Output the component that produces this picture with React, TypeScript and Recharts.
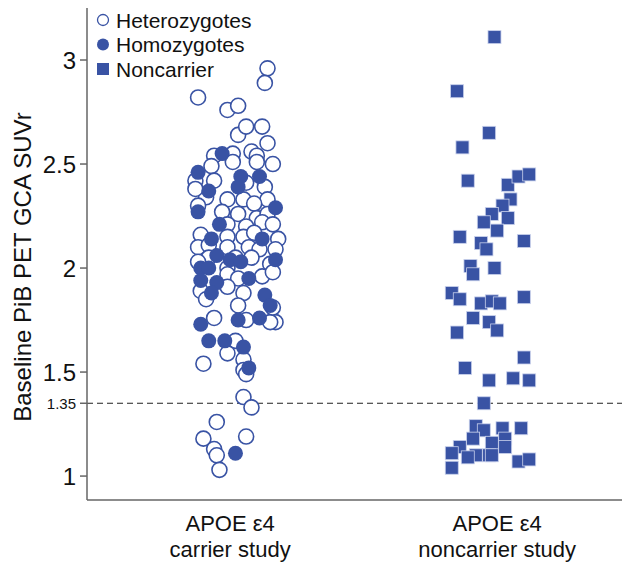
import { ScatterChart, Scatter, XAxis, YAxis, ReferenceLine, Label } from 'recharts';

const BLUE = '#3953a4';
const FONT = '"Liberation Sans", Arial, sans-serif';

const studyLabels = [['APOE ε4', 'carrier study'], ['APOE ε4', 'noncarrier study']];
const yTicks = [1, 1.35, 1.5, 2, 2.5, 3];
const threshold = 1.35;

// carrier study, heterozygotes: horizontal jitter and SUVr
const heteroJitter = [
    0.14, 0.13, -0.12, -0.01, 0.03, 0.03, 0.06, 0.12, 0.14, 0.08, 0.10, -0.06, 0.01, -0.07, 0.01, 0.10,
    0.16, -0.13, -0.06, 0.06, 0.13, -0.09, -0.01, 0.05, 0.14, -0.03, 0.03, 0.09, 0.10, 0.14, -0.01, 0.06,
    0.12, 0.16, -0.11, -0.01, 0.05, 0.09, 0.18, -0.12, -0.08, -0.01, 0.07, 0.11, 0.17, -0.08, 0.02, 0.08,
    0.15, -0.01, -0.01, 0.03, 0.12, 0.16, -0.11, -0.01, 0.05, 0.03, -0.06, 0.06, 0.17, 0.15, 0.02, -0.01,
    0.05, -0.10, 0.05, 0.06, 0.05, 0.08, -0.05, -0.10, 0.06, -0.06, -0.05, -0.04, -0.13, -0.12, -0.09, 0.16,
    -0.12,
];
const heteroSuvr = [
    2.96, 2.89, 2.82, 2.76, 2.78, 2.64, 2.68, 2.68, 2.60, 2.56, 2.54, 2.54, 2.55, 2.49, 2.51, 2.51,
    2.50, 2.42, 2.42, 2.41, 2.39, 2.34, 2.33, 2.33, 2.33, 2.27, 2.26, 2.31, 2.24, 2.26, 2.21, 2.20,
    2.22, 2.21, 2.16, 2.15, 2.15, 2.17, 2.14, 2.10, 2.11, 2.10, 2.10, 2.09, 2.09, 2.05, 2.05, 2.05,
    2.02, 2.00, 1.97, 1.95, 1.96, 1.98, 1.89, 1.91, 1.88, 1.82, 1.76, 1.75, 1.74, 1.74, 1.65, 1.59,
    1.56, 1.54, 1.51, 1.49, 1.38, 1.33, 1.26, 1.18, 1.19, 1.13, 1.10, 1.03, 2.38, 2.03, 1.85, 1.81,
    2.30,
];

// carrier study, homozygotes
const homoJitter = [
    -0.03, -0.12, -0.08, 0.04, 0.11, 0.03, -0.12, 0.17, -0.04, -0.07, 0.12, -0.05, 0.00, 0.04, 0.17, -0.11,
    -0.08, -0.11, -0.05, 0.07, -0.07, 0.13, 0.15, -0.11, 0.03, 0.11, -0.08, -0.02, 0.05, 0.07, 0.02,
];
const homoSuvr = [
    2.55, 2.46, 2.37, 2.44, 2.44, 2.39, 2.27, 2.29, 2.21, 2.14, 2.14, 2.06, 2.04, 2.03, 2.04, 2.00,
    2.00, 1.94, 1.93, 1.95, 1.88, 1.87, 1.82, 1.73, 1.75, 1.76, 1.65, 1.65, 1.62, 1.52, 1.11,
];

// noncarrier study
const nonJitter = [
    -0.01, -0.15, -0.03, -0.13, -0.11, 0.04, 0.08, 0.12, 0.05, 0.02, -0.02, -0.05, 0.04, 0.00, -0.14, -0.06,
    -0.04, 0.10, -0.10, -0.01, -0.09, -0.17, -0.14, -0.06, -0.02, 0.01, 0.10, -0.09, -0.03, 0.00, -0.15, 0.10,
    -0.12, -0.03, 0.06, 0.12, -0.05, -0.08, -0.05, 0.02, 0.09, -0.09, -0.14, 0.03, -0.02, 0.03, -0.17, -0.08,
    -0.03, -0.02, -0.11, 0.08, 0.12, -0.17,
];
const nonSuvr = [
    3.11, 2.85, 2.65, 2.58, 2.42, 2.40, 2.44, 2.45, 2.33, 2.30, 2.26, 2.22, 2.24, 2.18, 2.15, 2.12,
    2.09, 2.13, 2.01, 2.00, 1.97, 1.88, 1.85, 1.83, 1.84, 1.83, 1.86, 1.76, 1.74, 1.70, 1.69, 1.57,
    1.52, 1.46, 1.47, 1.46, 1.35, 1.24, 1.22, 1.23, 1.23, 1.18, 1.14, 1.18, 1.16, 1.14, 1.11, 1.10,
    1.10, 1.10, 1.09, 1.07, 1.08, 1.04,
];

const legendItems = [
    { name: 'Heterozygotes', kind: 'hollow' },
    { name: 'Homozygotes', kind: 'solid' },
    { name: 'Noncarrier', kind: 'square' },
];

const toPoints = (center: number, jitter: number[], suvr: number[]) =>
    suvr.map((y, i) => ({ x: center + jitter[i], y }));

const heteroData = toPoints(1, heteroJitter, heteroSuvr);
const homoData = toPoints(1, homoJitter, homoSuvr);
const nonData = toPoints(2, nonJitter, nonSuvr);

const HollowDot = (p: any) => (
    <circle cx={p.cx} cy={p.cy} r={7.5} fill='#fff' stroke={BLUE} strokeWidth={1.6} />
);
const SolidDot = (p: any) => (
    <circle cx={p.cx} cy={p.cy} r={7.5} fill={BLUE} />
);
const SquareMark = (p: any) => (
    <rect x={p.cx - 6.5} y={p.cy - 6.5} width={13} height={13} fill={BLUE} stroke='#c9d1ec' strokeWidth={0.8} />
);

const YTick = ({ x, y, payload }: any) => {
    const small = payload.value === threshold;
    return (
        <text x={x} y={y} textAnchor='end' dominantBaseline='central' fontFamily={FONT}
            fontSize={small ? 15 : 24} fill='#111'>
            {payload.value}
        </text>
    );
};

const XTick = ({ x, payload }: any) => {
    const lines = studyLabels[payload.value - 1] || [];
    return (
        <text textAnchor='middle' fontFamily={FONT} fontSize={22} fill='#111'>
            <tspan x={x} y={523}>{lines[0]}</tspan>
            <tspan x={x} y={549}>{lines[1]}</tspan>
        </text>
    );
};

// legend drawn in the svg so it does not push the plot area down
const LegendBox = () => (
    <g fontFamily={FONT} fontSize={21} fill='#111'>
        {legendItems.map((it, i) => {
            const cy = 12 + i * 24.5;
            return (
                <g key={it.name}>
                    {it.kind === 'hollow' && <circle cx={95} cy={cy} r={5.5} fill='#fff' stroke={BLUE} strokeWidth={1.3} />}
                    {it.kind === 'solid' && <circle cx={95} cy={cy} r={6} fill={BLUE} />}
                    {it.kind === 'square' && <rect x={89} y={cy - 6} width={12} height={12} fill={BLUE} />}
                    <text x={108} y={cy} dominantBaseline='central'>{it.name}</text>
                </g>
            );
        })}
    </g>
);

const YLabel = () => (
    <text x={14} y={259} transform='rotate(-90, 14, 259)' textAnchor='middle' dominantBaseline='central'
        fontFamily={FONT} fontSize={24} fill='#111'>
        Baseline PiB PET GCA SUVr
    </text>
);

export default function App() {
    return (
        <ScatterChart width={622} height={555} margin={{ top: 0, right: 2, bottom: 0, left: 0 }}>
            <XAxis type='number' dataKey='x' domain={[0.464, 2.49]} ticks={[1, 2]} allowDataOverflow
                tickLine={false} height={63} tick={<XTick />} stroke='#666' strokeWidth={1.5} />
            <YAxis type='number' dataKey='y' domain={[0.885, 3.25]} ticks={yTicks} allowDataOverflow
                width={79} tickSize={7} tickMargin={4} tick={<YTick />} stroke='#666' strokeWidth={1.5}>
                <Label content={<YLabel />} />
                <Label content={<LegendBox />} />
            </YAxis>
            <ReferenceLine y={threshold} stroke='#222' strokeWidth={1.2} strokeDasharray='6 4' />
            <Scatter name='Heterozygotes' data={heteroData} shape={HollowDot} isAnimationActive={false} />
            <Scatter name='Homozygotes' data={homoData} shape={SolidDot} isAnimationActive={false} />
            <Scatter name='Noncarrier' data={nonData} shape={SquareMark} isAnimationActive={false} />
        </ScatterChart>
    );
}
